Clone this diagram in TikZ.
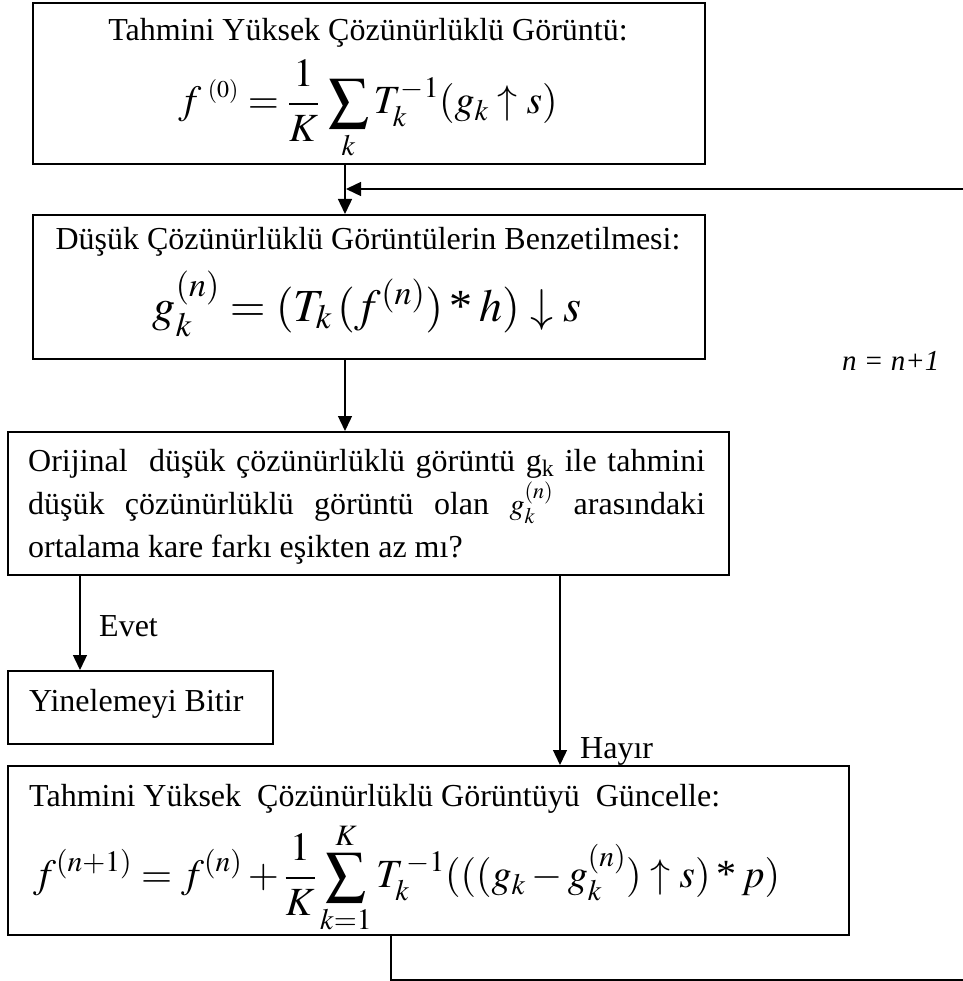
\documentclass[tikz,border=0pt]{standalone}
\usepackage{mathptmx}
\usepackage[no-math]{fontspec}
\setmainfont{Liberation Serif}
\usetikzlibrary{arrows.meta}
\newcommand{\txtfont}{\fontsize{32}{43}\selectfont}
\begin{document}
\begin{tikzpicture}[x=1pt,y=-1pt,
  box/.style={draw, line width=2.2pt, inner sep=0pt, anchor=north west},
  conn/.style={line width=1.4pt, -{Triangle[length=15pt,width=14pt]}},
  txt/.style={inner sep=0pt, font=\txtfont},
  eqa/.style={inner sep=0pt, font=\fontsize{40}{46}\selectfont},
  eqb/.style={inner sep=0pt, font=\fontsize{46}{50}\selectfont},
]
\useasboundingbox (0,0) rectangle (962,981);
% boxes
\node[box, minimum width=672pt, minimum height=161pt] (b1) at (32,2) {};
\node[box, minimum width=672pt, minimum height=144pt] (b2) at (32,214) {};
\node[box, minimum width=721pt, minimum height=143pt] (b3) at (7,431) {};
\node[box, minimum width=265pt, minimum height=73pt] (b4) at (7,670) {};
\node[box, minimum width=841pt, minimum height=169pt] (b5) at (7,765) {};
% texts
\node[txt] (t1) at (368,33) {Tahmini Yüksek Çözünürlüklü Görüntü:};
\node[eqa] (m1) at (368,110) {$\displaystyle f^{\;\scriptscriptstyle(0)} = \frac{1}{K}\,\sum_{k} T_k^{-1}(g_k \uparrow s)$};
\node[txt] (t2) at (368,242) {Düşük Çözünürlüklü Görüntülerin Benzetilmesi:};
\node[eqb] (m2) at (367,304) {$g_k^{(n)} = (T_k\,(f^{(n)})\mathbin{\mbox{*}}h)\downarrow s$};
\node[txt, anchor=base west] (l1) at (28,471) {\makebox[677pt][s]{Orijinal \ düşük çözünürlüklü görüntü g\textsubscript{k} ile tahmini}};
\node[txt, anchor=base west] (l2) at (28,514) {\makebox[677pt][s]{düşük çözünürlüklü görüntü olan {\fontsize{30}{30}\selectfont$g_k^{(n)}$} arasındaki}};
\node[txt, anchor=base west] (l3) at (28,557) {ortalama kare farkı eşikten az mı?};
\node[txt, anchor=base west] (t4) at (29,711) {Yinelemeyi Bitir};
\node[txt, anchor=base west] (evet) at (99,636) {Evet};
\node[txt, anchor=base west] (hayir) at (580,758) {Hayır};
\node[txt, anchor=base west] (t5) at (29,806) {Tahmini Yüksek \ Çözünürlüklü Görüntüyü \ Güncelle:};
\node[eqa, anchor=west] (m5) at (33,878) {$\displaystyle f^{(n+1)} = f^{(n)} + \frac{1}{K}\sum_{k=1}^{K} T_k^{\,-1}(((g_k - g_k^{(n)})\uparrow s)\mathbin{\mbox{*}}p)$};
\node[inner sep=0pt, anchor=base west, font=\fontsize{29}{32}\selectfont\itshape] (inc) at (842,370) {n = n+1};
% coordinates
\coordinate (xa) at (345,0);
\coordinate (xe) at (80,0);
\coordinate (xh) at (560,0);
\coordinate (xr) at (391,0);
\coordinate (c1) at (391,980);
\coordinate (c2) at (966,980);
\coordinate (c3) at (966,189);
\coordinate (fb) at (346,189);
% connectors
\draw[conn] (b1.south -| xa) -- (b2.north -| xa);
\draw[conn] (b2.south -| xa) -- (b3.north -| xa);
\draw[conn] (b3.south -| xe) -- (b4.north -| xe);
\draw[conn] (b3.south -| xh) -- (b5.north -| xh);
\draw[conn] (b5.south -| xr) -- (c1) -- (c2) -- (c3) -- (fb);
\end{tikzpicture}
\end{document}
